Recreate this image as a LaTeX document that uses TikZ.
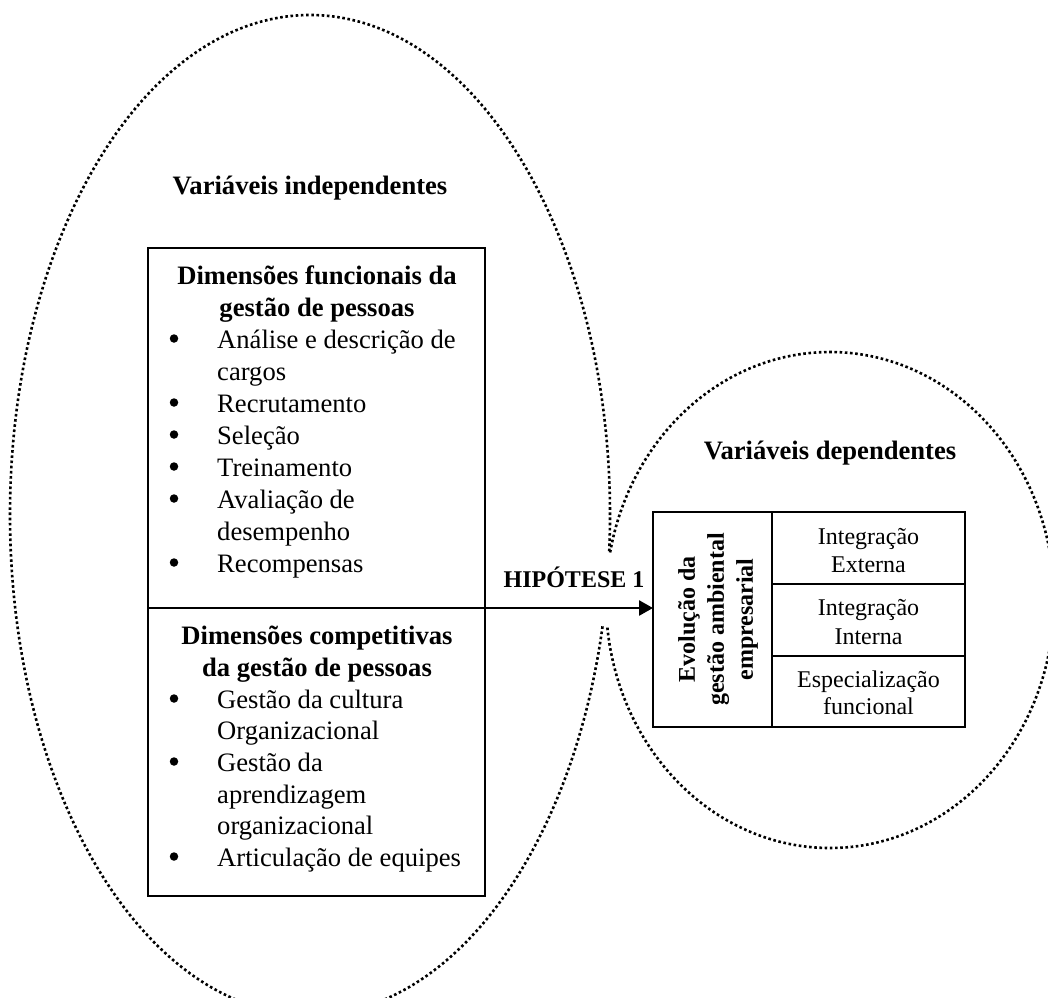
\documentclass[tikz,border=0pt]{standalone}
\usepackage{fontspec}
\setmainfont{Liberation Serif}
\usetikzlibrary{arrows.meta}
\begin{document}
\begin{tikzpicture}[x=1pt,y=-1pt,
  dotline/.style={line width=2.6pt, dash pattern=on 2.6pt off 2.6pt},
  cell/.style={draw, line width=2.6pt, inner sep=0pt, outer sep=0pt, anchor=north west},
  txt/.style={font=\fontsize{26.6}{31.7}\selectfont, inner sep=0pt, anchor=base},
  txtb/.style={txt, font=\fontsize{26.6}{31.7}\selectfont\bfseries},
  itemtxt/.style={txt, anchor=base west},
  bul/.style={circle, fill=black, inner sep=0pt, minimum size=8.5pt, yshift=9.5pt},
  cellt/.style={font=\fontsize{24}{28}\selectfont, inner sep=0pt, anchor=base},
  cellb/.style={font=\fontsize{24}{29}\selectfont\bfseries, inner sep=0pt},
  arr/.style={line width=2.6pt, -{Triangle[length=14pt,width=15pt]}}
]
\useasboundingbox (0,0) rectangle (1048,997);
\clip (0,0) rectangle (1048,997);

% the two dotted groupings
\draw[dotline] (310,515) ellipse [x radius=300pt, y radius=500pt];
\draw[dotline] (830,600) ellipse [x radius=224pt, y radius=248pt];
% opening where the two groupings meet
\fill[white] (586,553) rectangle (632,626);

% independent variables: two stacked boxes
\node[cell, minimum width=337pt, minimum height=360pt] (fun) at (148,248) {};
\node[cell, minimum width=337pt, minimum height=288pt] (comp) at (148,608) {};

% dependent variables: label column and three rows
\node[cell, minimum width=119pt, minimum height=215pt] (evo) at (653,512) {};
\node[cell, minimum width=193pt, minimum height=72pt] (ext) at (772,512) {};
\node[cell, minimum width=193pt, minimum height=72pt] (int) at (772,584) {};
\node[cell, minimum width=193pt, minimum height=71pt] (esp) at (772,656) {};

% group titles
\node[txtb] (ti) at (310,194) {Variáveis independentes};
\node[txtb] (td) at (830,459) {Variáveis dependentes};

% functional dimensions
\node[txtb] (f1) at (317,284) {Dimensões funcionais da};
\node[txtb] (f2) at (317,316) {gestão de pessoas};
\node[bul] (b1) at (174,348) {};
\node[itemtxt] (i1) at (217,348) {Análise e descrição de};
\node[itemtxt] (i1b) at (217,380) {cargos};
\node[bul] (b2) at (174,412) {};
\node[itemtxt] (i2) at (217,412) {Recrutamento};
\node[bul] (b3) at (174,444) {};
\node[itemtxt] (i3) at (217,444) {Seleção};
\node[bul] (b4) at (174,476) {};
\node[itemtxt] (i4) at (217,476) {Treinamento};
\node[bul] (b5) at (174,508) {};
\node[itemtxt] (i5) at (217,508) {Avaliação de};
\node[itemtxt] (i5b) at (217,540) {desempenho};
\node[bul] (b6) at (174,572) {};
\node[itemtxt] (i6) at (217,572) {Recompensas};

% competitive dimensions
\node[txtb] (c1) at (317,644) {Dimensões competitivas};
\node[txtb] (c2) at (317,676) {da gestão de pessoas};
\node[bul] (d1) at (174,708) {};
\node[itemtxt] (j1) at (217,708) {Gestão da cultura};
\node[itemtxt] (j1b) at (217,739) {Organizacional};
\node[bul] (d2) at (174,771) {};
\node[itemtxt] (j2) at (217,771) {Gestão da};
\node[itemtxt] (j2b) at (217,803) {aprendizagem};
\node[itemtxt] (j2c) at (217,834) {organizacional};
\node[bul] (d3) at (174,866) {};
\node[itemtxt] (j3) at (217,866) {Articulação de equipes};

% dependent variable cells
\node[cellb, rotate=90, align=center] (evt) at (718,619.5) {Evolução da\\gestão ambiental\\empresarial};
\node[cellt] (e1) at (868.5,544) {Integração};
\node[cellt] (e2) at (868.5,572) {Externa};
\node[cellt] (n1) at (868.5,615) {Integração};
\node[cellt] (n2) at (868.5,644) {Interna};
\node[cellt] (s1) at (868.5,687) {Especialização};
\node[cellt] (s2) at (868.5,714) {funcional};

% hypothesis link
\node[cellt, font=\fontsize{24}{28}\selectfont\bfseries] (hip) at (574,587) {HIPÓTESE 1};
\draw[arr] (fun.south east) -- (fun.south east -| evo.west);
\end{tikzpicture}
\end{document}
